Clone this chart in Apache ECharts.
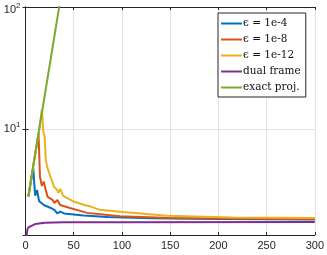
<!DOCTYPE html>
<html>
<head>
<meta charset="utf-8">
<script src="https://cdn.jsdelivr.net/npm/echarts@6/dist/echarts.min.js"></script>
<style>html,body{margin:0;padding:0;background:#fff}#c{width:327px;height:255px}</style>
</head>
<body>
<div id="c"></div>
<script>
const seriesNames = ['\u03f5 = 1e-4', '\u03f5 = 1e-8', '\u03f5 = 1e-12', 'dual frame', 'exact proj.'];
const colors = ['#0072BD', '#D95319', '#EDB120', '#7E2F8E', '#77AC30'];
const xTicks = [0, 50, 100, 150, 200, 250, 300];

const eps4X = [3, 8, 10, 12, 14, 19, 25, 30, 33, 36, 40, 60, 85, 130, 200, 300];
const eps4Y = [2.8, 4.8, 2.83, 3.16, 2.57, 2.38, 2.27, 2.17, 2.03, 2.10, 2.03, 1.95, 1.90, 1.85, 1.83, 1.81];

const eps8X = [3, 8, 13.5, 15, 17, 19, 21, 23, 28, 30, 33, 36, 46, 64, 98, 150, 200, 300];
const eps8Y = [2.8, 4.95, 9.2, 4.06, 3.41, 3.70, 3.16, 2.77, 2.62, 2.47, 2.62, 2.38, 2.25, 2.05, 1.92, 1.86, 1.84, 1.83];

const eps12X = [3, 8, 13, 17, 18.6, 19.7, 21, 22.5, 24.5, 26.3, 29.7, 32.8, 34, 36, 39, 50, 61, 67, 77, 101, 147, 215, 300];
const eps12Y = [2.8, 4.95, 8.5, 14.5, 9.3, 8.9, 5.57, 4.89, 4.79, 3.96, 3.35, 3.16, 2.99, 3.22, 2.83, 2.54, 2.38, 2.32, 2.17, 2.08, 1.94, 1.88, 1.86];

const dualX = [1, 2, 3, 5, 10, 20, 40, 100, 300];
const dualY = [1.3, 1.5, 1.56, 1.61, 1.66, 1.70, 1.715, 1.72, 1.725];

const exactX = [3, 10, 20, 30, 40];
const exactY = [2.8, 6.2, 18.9, 57.8, 177];

const yMin = 1.35, yMax = 100;

function zip(xs, ys) { return xs.map((x, i) => [x, ys[i]]); }
const allX = [eps4X, eps8X, eps12X, dualX, exactX];
const allY = [eps4Y, eps8Y, eps12Y, dualY, exactY];

const axisColor = '#262626';
const font = 'Liberation Sans, Arial';
const chart = echarts.init(document.getElementById('c'), null, {renderer: 'canvas'});
const yLabel = {
  showMinLabel: false,
  color: axisColor,
  margin: 5,
  formatter: function (v) {
    const e = Math.round(Math.log10(v));
    if (Math.abs(Math.log10(v) - e) > 1e-6) return '';
    if (e === 2) return '{bt|10}{st|' + e + '}';
    return '{b|10}{s|' + e + '}';
  },
  rich: {
    b: {fontSize: 11, fontFamily: font, color: axisColor},
    s: {fontSize: 8, fontFamily: font, color: axisColor, padding: [0, 0, 8, 0]},
    bt: {fontSize: 11, fontFamily: font, color: axisColor, padding: [6, 0, 0, 0]},
    st: {fontSize: 8, fontFamily: font, color: axisColor, padding: [0, 0, 2, 0]}
  }
};
chart.setOption({
  animation: false,
  color: colors,
  grid: {left: 25.5, right: 12, top: 7, bottom: 20, containLabel: false},
  legend: {
    orient: 'vertical',
    left: 218,
    top: 13,
    data: seriesNames,
    icon: 'rect',
    itemWidth: 21,
    itemHeight: 2,
    itemGap: 3,
    padding: [4, 5, 3, 3],
    borderColor: axisColor,
    borderWidth: 1,
    backgroundColor: '#fff',
    textStyle: {fontFamily: 'DejaVu Serif', fontSize: 10.5, color: '#111', padding: [0, 0, 0, -4], lineHeight: 13}
  },
  xAxis: [{
    type: 'value', min: 0, max: 300, interval: 50,
    axisLine: {show: true, lineStyle: {color: axisColor, width: 1}},
    axisTick: {inside: true, length: 3, lineStyle: {color: axisColor}},
    axisLabel: {color: axisColor, fontSize: 11, fontFamily: font, margin: 5, customValues: xTicks},
    splitLine: {show: true, lineStyle: {color: '#e3e3e3', width: 1}}
  }, {
    type: 'value', min: 0, max: 300, interval: 50, position: 'top',
    axisLine: {show: true, lineStyle: {color: axisColor, width: 1}},
    axisTick: {inside: true, length: 3, lineStyle: {color: axisColor}},
    axisLabel: {show: false}, splitLine: {show: false}
  }],
  yAxis: [{
    type: 'log', logBase: 10, min: yMin, max: yMax,
    axisLine: {show: true, lineStyle: {color: axisColor, width: 1}},
    axisTick: {inside: true, length: 3, lineStyle: {color: axisColor}},
    axisLabel: yLabel,
    splitLine: {show: true, lineStyle: {color: '#e3e3e3', width: 1}},
    minorTick: {show: false}
  }, {
    type: 'log', logBase: 10, min: yMin, max: yMax, position: 'right',
    axisLine: {show: true, lineStyle: {color: axisColor, width: 1}},
    axisTick: {inside: true, length: 3, lineStyle: {color: axisColor}},
    axisLabel: {show: false}, splitLine: {show: false}
  }],
  series: seriesNames.map((name, i) => ({
    name: name,
    type: 'line',
    xAxisIndex: 0, yAxisIndex: 0,
    data: zip(allX[i], allY[i]),
    showSymbol: false,
    symbol: 'none',
    clip: true,
    lineStyle: {width: 2, color: colors[i]},
    itemStyle: {color: colors[i]},
    z: 2 + i
  }))
});
</script>
</body>
</html>
